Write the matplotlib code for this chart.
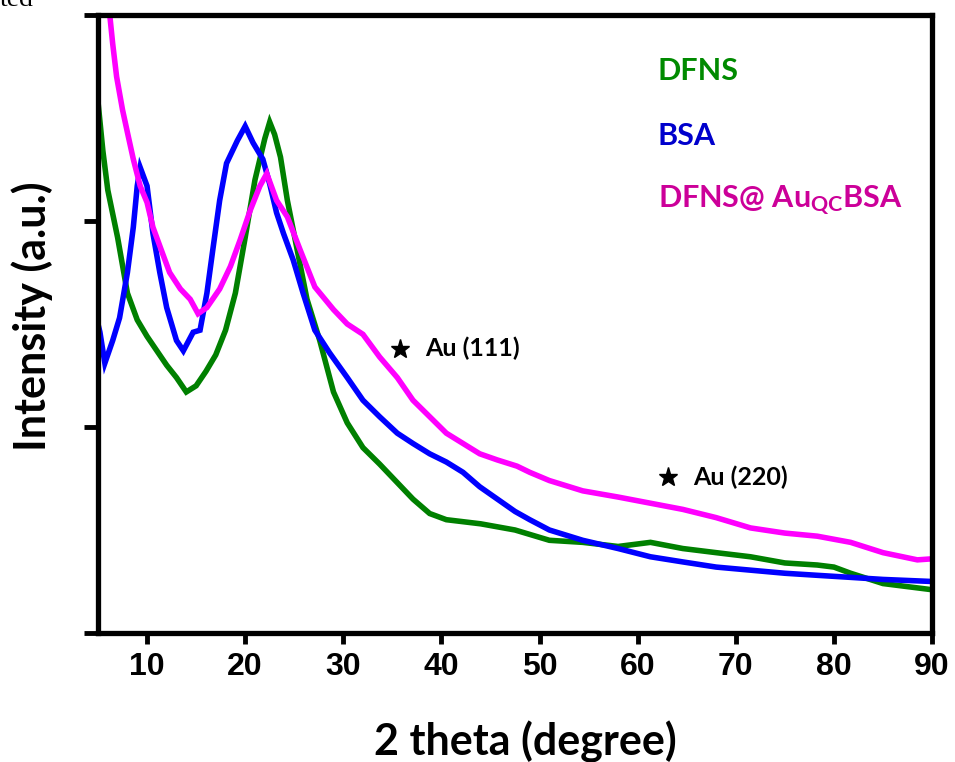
import matplotlib
matplotlib.use("Agg")
import matplotlib.pyplot as plt

# XRD patterns, 2 theta in degrees vs intensity (arbitrary units)
dfns_x = [5.0, 5.5, 6.0, 7.0, 8.0, 9.0, 10.0, 11.0, 12.0, 13.0, 14.0, 15.0, 16.0, 17.0,
          18.0, 19.0, 20.0, 21.0, 22.0, 22.5, 23.0, 23.6, 24.3, 25.3, 26.3, 27.6, 29.0,
          30.4, 32.0, 33.7, 35.5, 37.1, 38.8, 40.5, 44.0, 47.5, 51.0, 54.4, 58.0, 61.3,
          64.6, 68.0, 71.5, 75.0, 78.3, 80.0, 81.7, 85.0, 90.0]
dfns_y = [2.58, 2.34, 2.15, 1.92, 1.65, 1.52, 1.44, 1.37, 1.30, 1.24, 1.17, 1.20, 1.27, 1.35,
          1.47, 1.65, 1.92, 2.20, 2.40, 2.48, 2.42, 2.31, 2.10, 1.86, 1.62, 1.42, 1.17,
          1.02, 0.90, 0.82, 0.73, 0.65, 0.58, 0.55, 0.53, 0.50, 0.45, 0.44, 0.42, 0.44,
          0.41, 0.39, 0.37, 0.34, 0.33, 0.32, 0.29, 0.24, 0.21]

bsa_x = [5.0, 5.2, 5.7, 6.5, 7.2, 8.0, 8.6, 9.0, 9.3, 10.0, 10.6, 11.3, 12.0, 13.0, 13.7,
         14.7, 15.4, 16.1, 16.7, 17.4, 18.1, 19.2, 20.0, 20.8, 21.8, 22.5, 23.2, 23.9,
         24.9, 25.9, 27.1, 28.6, 30.4, 32.0, 33.7, 35.5, 37.1, 38.8, 40.5, 42.2, 43.9,
         45.7, 47.5, 49.0, 51.0, 54.4, 58.0, 61.3, 64.6, 68.0, 71.5, 75.0, 78.3, 81.7,
         85.0, 90.0]
bsa_y = [1.50, 1.46, 1.31, 1.42, 1.53, 1.75, 1.97, 2.17, 2.26, 2.17, 1.94, 1.75, 1.58, 1.42, 1.37,
         1.46, 1.47, 1.65, 1.86, 2.10, 2.28, 2.39, 2.46, 2.38, 2.30, 2.18, 2.04, 1.94,
         1.81, 1.65, 1.47, 1.36, 1.24, 1.13, 1.05, 0.97, 0.92, 0.87, 0.83, 0.78, 0.71,
         0.65, 0.59, 0.55, 0.50, 0.45, 0.41, 0.37, 0.345, 0.32, 0.305, 0.29, 0.28, 0.27,
         0.26, 0.25]

comp_x = [5.0, 6.2, 6.5, 6.9, 7.5, 8.0, 8.6, 9.3, 10.0, 10.6, 11.6, 12.3, 13.4, 14.4, 15.2,
          16.1, 17.4, 18.5, 19.5, 20.5, 21.5, 22.2, 23.2, 24.3, 25.6, 27.1, 29.0, 30.4,
          32.0, 33.7, 35.5, 37.1, 38.8, 40.5, 42.2, 43.9, 45.7, 47.7, 49.0, 51.0, 54.4,
          58.0, 61.3, 64.6, 68.0, 71.5, 75.0, 78.3, 81.7, 85.0, 88.5, 90.0]
comp_y = [3.55, 3.0, 2.86, 2.70, 2.54, 2.43, 2.30, 2.17, 2.09, 1.97, 1.84, 1.75, 1.67, 1.62, 1.55,
          1.58, 1.67, 1.78, 1.91, 2.05, 2.17, 2.23, 2.10, 2.02, 1.86, 1.68, 1.57, 1.50,
          1.45, 1.34, 1.24, 1.13, 1.05, 0.97, 0.92, 0.87, 0.84, 0.81, 0.78, 0.74, 0.69,
          0.66, 0.63, 0.60, 0.56, 0.51, 0.485, 0.47, 0.44, 0.39, 0.355, 0.36]

labels = ["DFNS", "BSA", "DFNS@ Au$_{QC}$BSA"]
line_colors = ["#008000", "#0000ff", "#ff00ff"]
text_colors = ["#008a00", "#0000cc", "#cc0099"]

peaks = ["Au (111)", "Au (220)"]
peak_x = [35.8, 63.1]
peak_y = [1.38, 0.757]

plt.rcParams["font.family"] = ["Lato", "DejaVu Sans"]
plt.rcParams["mathtext.fontset"] = "custom"
plt.rcParams["mathtext.rm"] = "Lato:bold"
plt.rcParams["mathtext.it"] = "Lato:bold"
plt.rcParams["mathtext.default"] = "rm"

fig = plt.figure(figsize=(9.55, 7.62), dpi=100)
ax = fig.add_axes([0.1026, 0.1693, 0.8734, 0.811])

for xs, ys, c in zip([dfns_x, bsa_x, comp_x], [dfns_y, bsa_y, comp_y], line_colors):
    ax.plot(xs, ys, color=c, lw=4, solid_joinstyle="miter")

ax.set_xlim(5, 90)
ax.set_ylim(0, 3)
ax.set_xticks(range(10, 91, 10))
ax.set_yticks([0, 1, 2, 3])
ax.set_yticklabels([])
for lbl in ax.get_xticklabels():
    lbl.set_fontfamily("Liberation Sans")
    lbl.set_fontweight("bold")
    lbl.set_fontsize(23)
ax.tick_params(axis="x", direction="out", length=8, width=3.5, pad=6)
ax.tick_params(axis="y", direction="out", length=10, width=3.5)
for sp in ax.spines.values():
    sp.set_linewidth(3.8)

fig.text(0.55, 0.009, "2 theta (degree)", fontsize=31, fontweight="bold",
         ha="center", va="baseline")
fig.text(0.034, 0.585, "Intensity (a.u.)", fontsize=31, fontweight="bold",
         ha="center", va="center", rotation=90)

for i, (lab, c) in enumerate(zip(labels, text_colors)):
    ax.text(0.671, 0.91 - i * 0.105, lab, transform=ax.transAxes, color=c,
            fontsize=22, fontweight="bold", va="center", ha="left")

for name, px, py in zip(peaks, peak_x, peak_y):
    ax.plot(px, py, marker="*", color="black", ms=14, ls="none")
    ax.text(px + 2.5, py, name, fontsize=18, fontweight="bold", va="center", ha="left")

fig.text(0.0, 1.0, "ted", family="Liberation Serif", fontsize=20, va="center", ha="left")

fig.savefig("out.png", dpi=100)
